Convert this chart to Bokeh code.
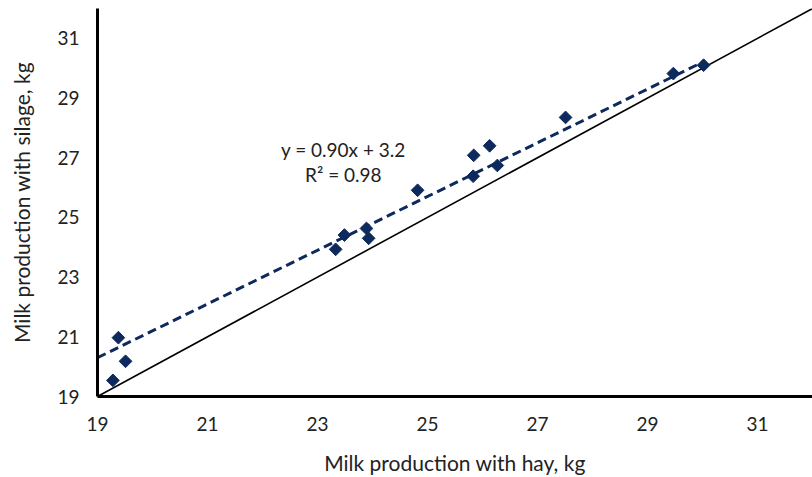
import math
from bokeh.plotting import figure
from bokeh.models import FixedTicker, Label, Range1d
from bokeh.embed import file_html
from bokeh.resources import INLINE

# Data
hay = [19.28, 19.38, 19.51, 23.33, 23.49, 23.89, 23.93, 24.82, 25.83, 25.84, 26.13, 26.27, 27.51, 29.47, 30.02]
silage = [19.54, 20.97, 20.18, 23.93, 24.41, 24.63, 24.30, 25.91, 26.38, 27.08, 27.40, 26.74, 28.35, 29.82, 30.10]
slope = 0.90
intercept = 3.2
r2 = 0.98
ticks = [19, 21, 23, 25, 27, 29, 31]
axis_min, axis_max = 19, 32

FONT = "Lato"
NAVY = "#0E2A5C"

p = figure(width=812, height=477, output_backend="svg", toolbar_location=None,
           x_range=Range1d(axis_min, axis_max), y_range=Range1d(axis_min, axis_max),
           min_border_left=97, min_border_right=0, min_border_top=8, min_border_bottom=40)
p.outline_line_color = None
p.xgrid.visible = False
p.ygrid.visible = False

# 1:1 line
p.line([axis_min, axis_max], [axis_min, axis_max], line_color="black", line_width=1.6)

# trendline
x0, x1 = axis_min, max(hay)
p.line([x0, x1], [slope * x0 + intercept, slope * x1 + intercept],
       line_color=NAVY, line_width=3, line_dash="9 5")

# points (diamonds = squares rotated by 45 degrees)
p.scatter(hay, silage, marker="square", size=9, angle=math.pi / 4,
          fill_color=NAVY, line_color=NAVY, line_width=1)

for ax in (p.xaxis, p.yaxis):
    ax.ticker = FixedTicker(ticks=ticks)
    ax.axis_line_width = 3
    ax.axis_line_color = "black"
    ax.major_tick_line_color = None
    ax.minor_tick_line_color = None
    ax.major_tick_out = 0
    ax.major_tick_in = 0
    ax.major_label_text_font = FONT
    ax.major_label_text_font_size = "19px"
    ax.major_label_text_color = "#222222"
    ax.axis_label_text_font = FONT
    ax.axis_label_text_font_size = "21px"
    ax.axis_label_text_font_style = "normal"
    ax.axis_label_text_color = "#222222"

p.xaxis.axis_label = "Milk production with hay, kg"
p.yaxis.axis_label = "Milk production with silage, kg"
p.xaxis.major_label_standoff = 20
p.yaxis.major_label_standoff = 18
p.xaxis.axis_label_standoff = 16
p.yaxis.axis_label_standoff = 20

p.add_layout(Label(x=23.47, y=27.27, text=f"y = {slope:.2f}x + {intercept}",
                   text_align="center", text_baseline="middle",
                   text_font=FONT, text_font_size="19px", text_color="#222222"))
p.add_layout(Label(x=23.47, y=26.43, text=f"R² = {r2}",
                   text_align="center", text_baseline="middle",
                   text_font=FONT, text_font_size="19px", text_color="#222222"))

open("out.html", "w").write(file_html(p, INLINE))
